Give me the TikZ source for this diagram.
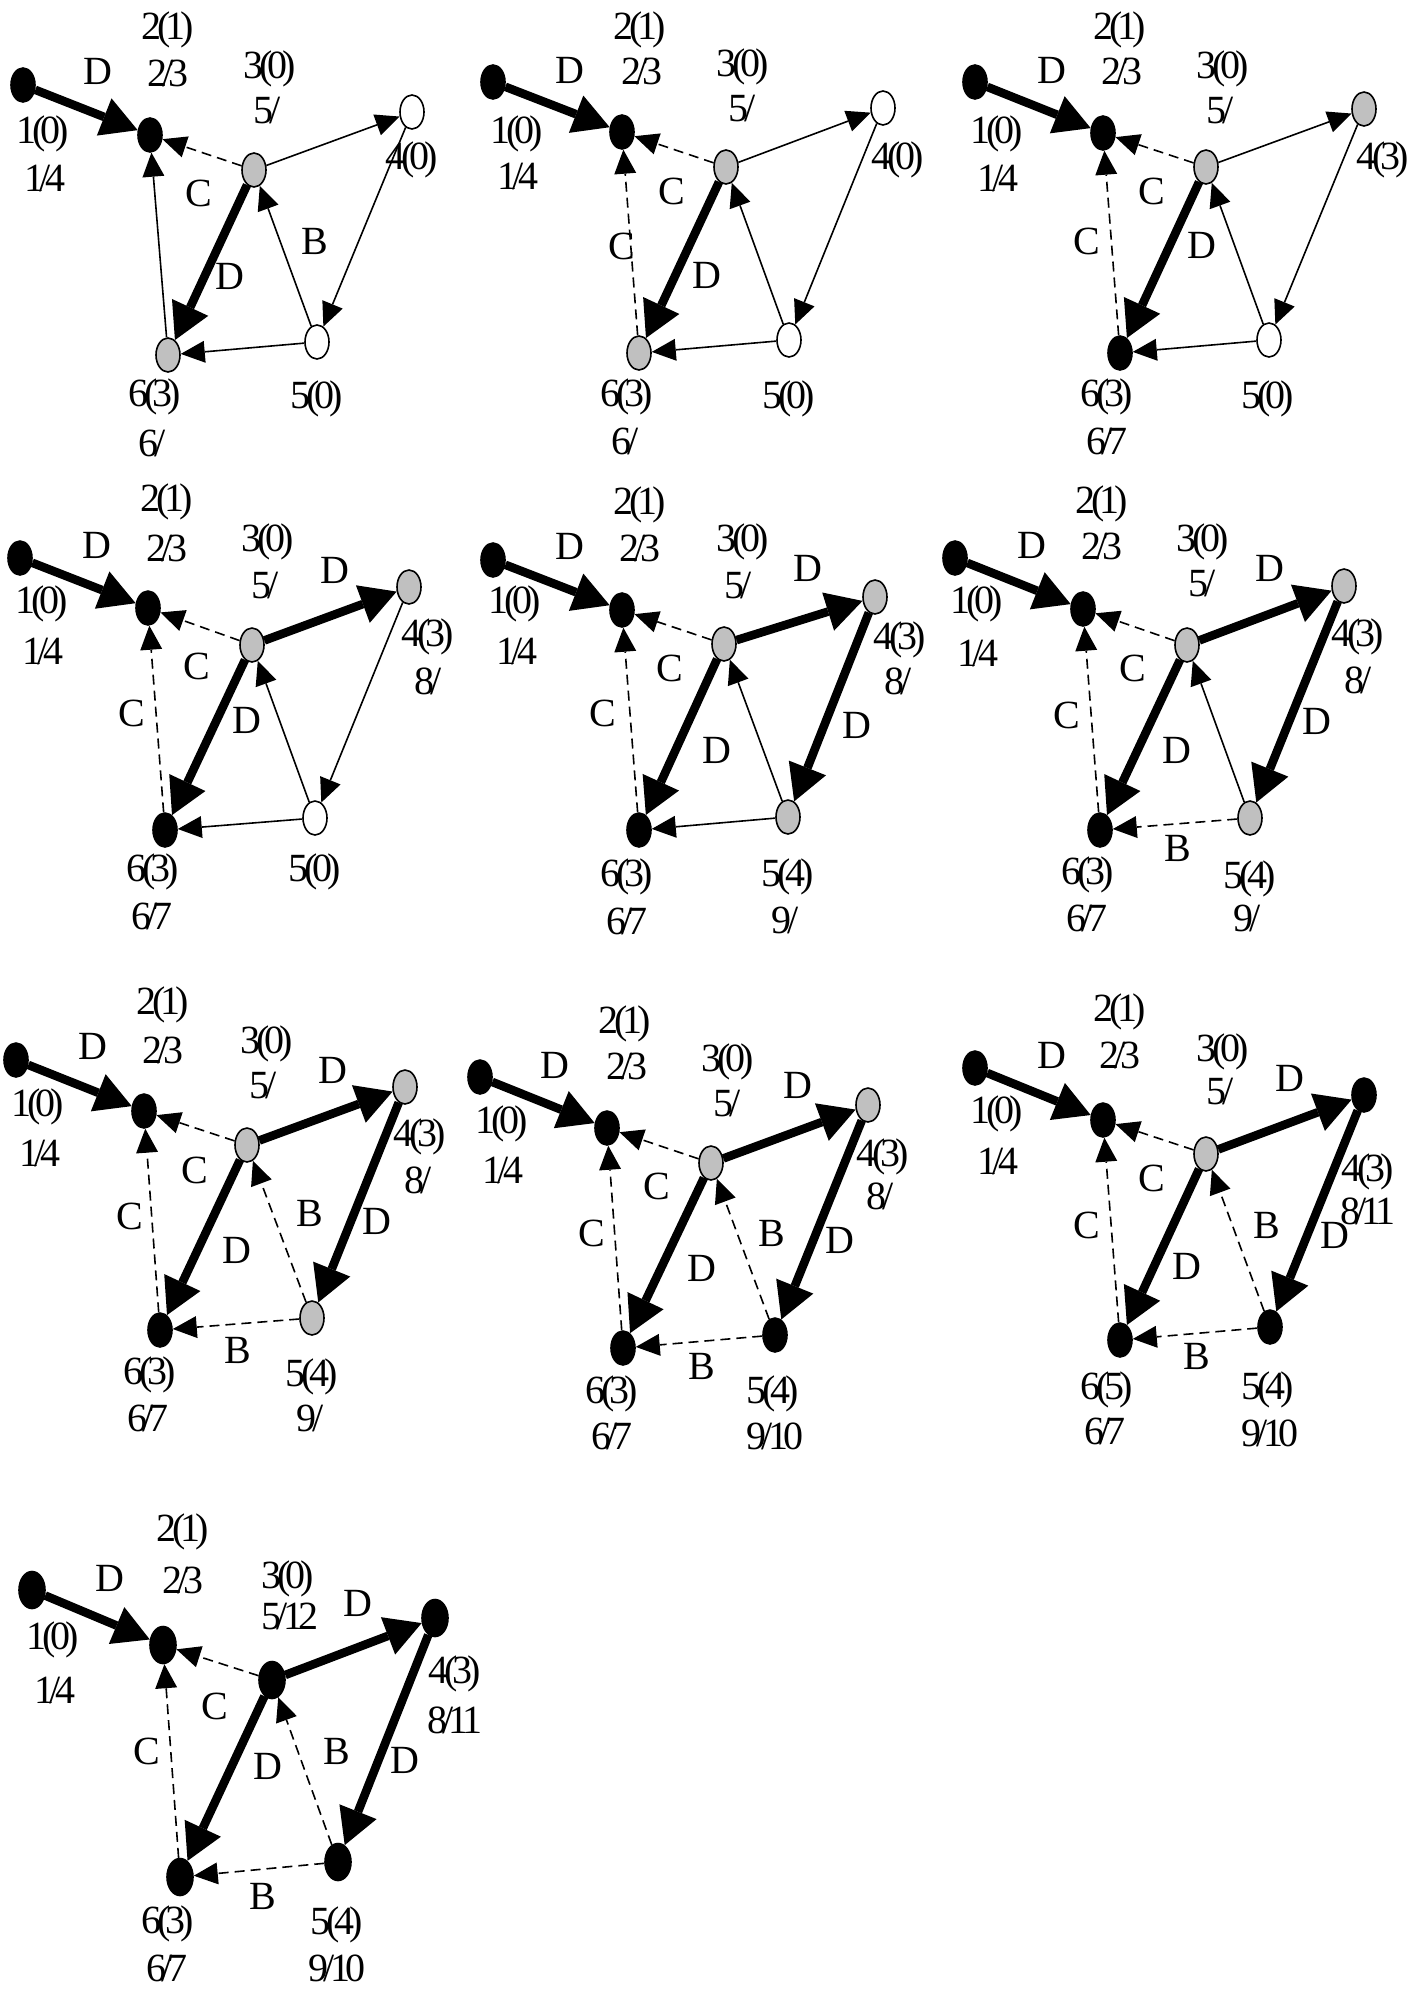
\documentclass[tikz,border=0pt]{standalone}
\usepackage{fontspec}
\setmainfont{Liberation Serif}[LetterSpace=-12]
\usetikzlibrary{arrows.meta,shapes.geometric}
\definecolor{nodegray}{RGB}{192,192,192}
\newcommand\lb[4]{\node[lbl] (#1) at (#2,#3) {#4};}
\begin{document}
\begin{tikzpicture}[x=0.5pt,y=-0.5pt,
 vx/.style={ellipse,draw=black,line width=0.8pt,minimum width=12pt,minimum height=17pt,inner sep=0pt},
 blk/.style={vx,fill=black},
 gry/.style={vx,fill=nodegray},
 wht/.style={vx,fill=white},
 lbl/.style={inner sep=0pt,font=\fontsize{20pt}{20pt}\selectfont,text height=0.66em,text depth=0pt},
 thk/.style={line width=4.3pt,-{Triangle[length=18pt,width=20pt,line width=0pt]}},
 thn/.style={line width=0.8pt,-{Triangle[length=12pt,width=11pt,line width=0pt]}},
 dsh/.style={thn,dash pattern=on 5pt off 3pt},
]
\useasboundingbox (0,0) rectangle (1417,1993);
\fill[white] (0,0) rectangle (1417,1993);

% ---------- Panel 1 ----------
\begin{scope}[shift={(23,85)}]
\node[blk] (A1) at (0,0) {};
\node[blk] (A2) at (127,50) {};
\node[gry] (A3) at (231,85) {};
\node[wht] (A4) at (389,27) {};
\node[wht] (A5) at (294,257) {};
\node[gry] (A6) at (145,270) {};
\draw[thk] (A1) -- (A2);
\draw[dsh] (A3) -- (A2);
\draw[thn] (A6) -- (A2);
\draw[thk] (A3) -- (A6);
\draw[thn] (A3) -- (A4);
\draw[thn] (A4) -- (A5);
\draw[thn] (A5) -- (A3);
\draw[thn] (A5) -- (A6);
\lb{Aa}{145}{-52}{2(1)} \lb{Ab}{145}{-5}{2/3} \lb{Ac}{75}{-7}{D}
\lb{Ad}{20}{52}{1(0)} \lb{Ae}{22}{100}{1/4}
\lb{Af}{247}{-13}{3(0)} \lb{Ag}{244}{32}{5/}
\lb{Ah}{389}{78}{4(0)}
\lb{Ai}{176}{115}{C} \lb{Aj}{292}{163}{B} \lb{Ak}{207}{198}{D}
\lb{Al}{132}{315}{6(3)} \lb{Am}{129}{365}{6/}
\lb{An}{294}{317}{5(0)}
\end{scope}

% ---------- Panel 2 ----------
\begin{scope}[shift={(493,82)}]
\node[blk] (B1) at (0,0) {};
\node[blk] (B2) at (129,50) {};
\node[gry] (B3) at (233,85) {};
\node[wht] (B4) at (390,26) {};
\node[wht] (B5) at (296,258) {};
\node[gry] (B6) at (146,271) {};
\draw[thk] (B1) -- (B2);
\draw[dsh] (B3) -- (B2);
\draw[dsh] (B6) -- (B2);
\draw[thk] (B3) -- (B6);
\draw[thn] (B3) -- (B4);
\draw[thn] (B4) -- (B5);
\draw[thn] (B5) -- (B3);
\draw[thn] (B5) -- (B6);
\lb{Ba}{147}{-49}{2(1)} \lb{Bb}{149}{-4}{2/3} \lb{Bc}{77}{-5}{D}
\lb{Bd}{24}{55}{1(0)} \lb{Be}{25}{101}{1/4}
\lb{Bf}{250}{-12}{3(0)} \lb{Bg}{249}{33}{5/}
\lb{Bh}{405}{81}{4(0)}
\lb{Bi}{179}{116}{C} \lb{Bj}{129}{171}{C} \lb{Bk}{214}{200}{D}
\lb{Bl}{134}{318}{6(3)} \lb{Bm}{132}{366}{6/}
\lb{Bn}{296}{320}{5(0)}
\end{scope}

% ---------- Panel 3 ----------
\begin{scope}[shift={(975,82)}]
\node[blk] (C1) at (0,0) {};
\node[blk] (C2) at (128,51) {};
\node[gry] (C3) at (231,85) {};
\node[gry] (C4) at (389,27) {};
\node[wht] (C5) at (294,258) {};
\node[blk] (C6) at (145,271) {};
\draw[thk] (C1) -- (C2);
\draw[dsh] (C3) -- (C2);
\draw[dsh] (C6) -- (C2);
\draw[thk] (C3) -- (C6);
\draw[thn] (C3) -- (C4);
\draw[thn] (C4) -- (C5);
\draw[thn] (C5) -- (C3);
\draw[thn] (C5) -- (C6);
\lb{Ca}{145}{-49}{2(1)} \lb{Cb}{147}{-4}{2/3} \lb{Cc}{77}{-5}{D}
\lb{Cd}{22}{55}{1(0)} \lb{Ce}{23}{103}{1/4}
\lb{Cf}{248}{-10}{3(0)} \lb{Cg}{245}{35}{5/}
\lb{Ch}{408}{81}{4(3)}
\lb{Ci}{177}{116}{C} \lb{Cj}{112}{166}{C} \lb{Ck}{227}{170}{D}
\lb{Cl}{132}{318}{6(3)} \lb{Cm}{132}{366}{6/7}
\lb{Cn}{293}{320}{5(0)}
\end{scope}

% ---------- Panel 4 ----------
\begin{scope}[shift={(20,558)}]
\node[blk] (D1) at (0,0) {};
\node[blk] (D2) at (128,50) {};
\node[gry] (D3) at (232,87) {};
\node[gry] (D4) at (389,29) {};
\node[wht] (D5) at (295,260) {};
\node[blk] (D6) at (145,272) {};
\draw[thk] (D1) -- (D2);
\draw[dsh] (D3) -- (D2);
\draw[dsh] (D6) -- (D2);
\draw[thk] (D3) -- (D6);
\draw[thk] (D3) -- (D4);
\draw[thn] (D4) -- (D5);
\draw[thn] (D5) -- (D3);
\draw[thn] (D5) -- (D6);
\lb{Da}{147}{-53}{2(1)} \lb{Db}{147}{-3}{2/3} \lb{Dc}{77}{-6}{D}
\lb{Dd}{22}{49}{1(0)} \lb{De}{23}{100}{1/4}
\lb{Df}{248}{-13}{3(0)} \lb{Dg}{245}{34}{5/}
\lb{Dh}{315}{19}{D}
\lb{Di}{408}{82}{4(3)} \lb{Dj}{408}{130}{8/}
\lb{Dk}{177}{115}{C} \lb{Dl}{112}{162}{C} \lb{Dm}{227}{169}{D}
\lb{Dn}{133}{317}{6(3)} \lb{Do}{132}{365}{6/7}
\lb{Dp}{295}{317}{5(0)}
\end{scope}

% ---------- Panel 5 ----------
\begin{scope}[shift={(493,560)}]
\node[blk] (E1) at (0,0) {};
\node[blk] (E2) at (129,50) {};
\node[gry] (E3) at (231,84) {};
\node[gry] (E4) at (382,37) {};
\node[gry] (E5) at (295,257) {};
\node[blk] (E6) at (146,270) {};
\draw[thk] (E1) -- (E2);
\draw[dsh] (E3) -- (E2);
\draw[dsh] (E6) -- (E2);
\draw[thk] (E3) -- (E6);
\draw[thk] (E3) -- (E4);
\draw[thk] (E4) -- (E5);
\draw[thn] (E5) -- (E3);
\draw[thn] (E5) -- (E6);
\lb{Ea}{147}{-52}{2(1)} \lb{Eb}{147}{-5}{2/3} \lb{Ec}{77}{-7}{D}
\lb{Ed}{22}{47}{1(0)} \lb{Ee}{24}{98}{1/4}
\lb{Ef}{250}{-15}{3(0)} \lb{Eg}{245}{32}{5/}
\lb{Eh}{315}{15}{D}
\lb{Ei}{407}{83}{4(3)} \lb{Ej}{405}{128}{8/}
\lb{Ek}{364}{172}{D}
\lb{El}{177}{115}{C} \lb{Em}{110}{160}{C} \lb{En}{224}{197}{D}
\lb{Eo}{134}{320}{6(3)} \lb{Ep}{134}{368}{6/7}
\lb{Eq}{295}{320}{5(4)} \lb{Er}{292}{367}{9/}
\end{scope}

% ---------- Panel 6 ----------
\begin{scope}[shift={(955,558)}]
\node[blk] (F1) at (0,0) {};
\node[blk] (F2) at (128,51) {};
\node[gry] (F3) at (232,87) {};
\node[gry] (F4) at (389,28) {};
\node[gry] (F5) at (295,260) {};
\node[blk] (F6) at (145,272) {};
\draw[thk] (F1) -- (F2);
\draw[dsh] (F3) -- (F2);
\draw[dsh] (F6) -- (F2);
\draw[thk] (F3) -- (F6);
\draw[thk] (F3) -- (F4);
\draw[thk] (F4) -- (F5);
\draw[thn] (F5) -- (F3);
\draw[dsh] (F5) -- (F6);
\lb{Fa}{147}{-51}{2(1)} \lb{Fb}{147}{-5}{2/3} \lb{Fc}{77}{-6}{D}
\lb{Fd}{22}{49}{1(0)} \lb{Fe}{23}{102}{1/4}
\lb{Ff}{248}{-13}{3(0)} \lb{Fg}{247}{32}{5/}
\lb{Fh}{315}{17}{D}
\lb{Fi}{403}{82}{4(3)} \lb{Fj}{403}{129}{8/}
\lb{Fk}{362}{170}{D}
\lb{Fl}{178}{117}{C} \lb{Fm}{112}{164}{C} \lb{Fn}{222}{199}{D}
\lb{Fo}{223}{297}{B}
\lb{Fp}{133}{320}{6(3)} \lb{Fq}{132}{367}{6/7}
\lb{Fr}{295}{324}{5(4)} \lb{Fs}{292}{367}{9/}
\end{scope}

% ---------- Panel 7 ----------
\begin{scope}[shift={(16,1060)}]
\node[blk] (G1) at (0,0) {};
\node[blk] (G2) at (128,51) {};
\node[gry] (G3) at (231,85) {};
\node[gry] (G4) at (389,27) {};
\node[gry] (G5) at (296,258) {};
\node[blk] (G6) at (144,270) {};
\draw[thk] (G1) -- (G2);
\draw[dsh] (G3) -- (G2);
\draw[dsh] (G6) -- (G2);
\draw[thk] (G3) -- (G6);
\draw[thk] (G3) -- (G4);
\draw[thk] (G4) -- (G5);
\draw[dsh] (G5) -- (G3);
\draw[dsh] (G5) -- (G6);
\lb{Ga}{147}{-52}{2(1)} \lb{Gb}{147}{-3}{2/3} \lb{Gc}{77}{-7}{D}
\lb{Gd}{22}{50}{1(0)} \lb{Ge}{24}{100}{1/4}
\lb{Gf}{251}{-13}{3(0)} \lb{Gg}{247}{32}{5/}
\lb{Gh}{317}{17}{D}
\lb{Gi}{404}{80}{4(3)} \lb{Gj}{402}{127}{8/}
\lb{Gk}{361}{168}{D} \lb{Gl}{294}{160}{B}
\lb{Gm}{179}{117}{C} \lb{Gn}{114}{163}{C} \lb{Go}{221}{197}{D}
\lb{Gp}{222}{297}{B}
\lb{Gq}{134}{318}{6(3)} \lb{Gr}{132}{365}{6/7}
\lb{Gs}{296}{320}{5(4)} \lb{Gt}{294}{365}{9/}
\end{scope}

% ---------- Panel 8 ----------
\begin{scope}[shift={(480,1077)}]
\node[blk] (H1) at (0,0) {};
\node[blk] (H2) at (127,51) {};
\node[gry] (H3) at (231,86) {};
\node[gry] (H4) at (388,28) {};
\node[blk] (H5) at (295,258) {};
\node[blk] (H6) at (143,271) {};
\draw[thk] (H1) -- (H2);
\draw[dsh] (H3) -- (H2);
\draw[dsh] (H6) -- (H2);
\draw[thk] (H3) -- (H6);
\draw[thk] (H3) -- (H4);
\draw[thk] (H4) -- (H5);
\draw[dsh] (H5) -- (H3);
\draw[dsh] (H5) -- (H6);
\lb{Ha}{145}{-50}{2(1)} \lb{Hb}{147}{-4}{2/3} \lb{Hc}{75}{-5}{D}
\lb{Hd}{22}{50}{1(0)} \lb{He}{23}{100}{1/4}
\lb{Hf}{248}{-12}{3(0)} \lb{Hg}{247}{33}{5/}
\lb{Hh}{318}{15}{D}
\lb{Hi}{403}{83}{4(3)} \lb{Hj}{400}{126}{8/}
\lb{Hk}{360}{170}{D} \lb{Hl}{292}{163}{B}
\lb{Hm}{177}{116}{C} \lb{Hn}{112}{163}{C} \lb{Ho}{222}{198}{D}
\lb{Hp}{222}{296}{B}
\lb{Hq}{132}{320}{6(3)} \lb{Hr}{132}{366}{6/7}
\lb{Hs}{293}{320}{5(4)} \lb{Ht}{295}{366}{9/10}
\end{scope}

% ---------- Panel 9 ----------
\begin{scope}[shift={(975,1068)}]
\node[blk] (I1) at (0,0) {};
\node[blk] (I2) at (128,52) {};
\node[gry] (I3) at (231,86) {};
\node[blk] (I4) at (389,27) {};
\node[blk] (I5) at (295,259) {};
\node[blk] (I6) at (145,272) {};
\draw[thk] (I1) -- (I2);
\draw[dsh] (I3) -- (I2);
\draw[dsh] (I6) -- (I2);
\draw[thk] (I3) -- (I6);
\draw[thk] (I3) -- (I4);
\draw[thk] (I4) -- (I5);
\draw[dsh] (I5) -- (I3);
\draw[dsh] (I5) -- (I6);
\lb{Ia}{145}{-53}{2(1)} \lb{Ib}{145}{-6}{2/3} \lb{Ic}{77}{-6}{D}
\lb{Id}{22}{49}{1(0)} \lb{Ie}{23}{100}{1/4}
\lb{If}{248}{-13}{3(0)} \lb{Ig}{245}{30}{5/}
\lb{Ih}{315}{17}{D}
\lb{Ii}{393}{107}{4(3)} \lb{Ij}{393}{150}{8/11}
\lb{Ik}{360}{174}{D} \lb{Il}{292}{164}{B}
\lb{Im}{177}{117}{C} \lb{In}{112}{164}{C} \lb{Io}{212}{205}{D}
\lb{Ip}{222}{295}{B}
\lb{Iq}{132}{325}{6(5)} \lb{Ir}{130}{370}{6/7}
\lb{Is}{293}{325}{5(4)} \lb{It}{295}{372}{9/10}
\end{scope}

% ---------- Panel 10 ----------
\begin{scope}[shift={(32,1590)},vx/.append style={minimum width=13pt,minimum height=18.5pt}]
\node[blk] (J1) at (0,0) {};
\node[blk] (J2) at (131,55) {};
\node[blk] (J3) at (240,90) {};
\node[blk] (J4) at (403,28) {};
\node[blk] (J5) at (306,272) {};
\node[blk] (J6) at (148,287) {};
\draw[thk] (J1) -- (J2);
\draw[dsh] (J3) -- (J2);
\draw[dsh] (J6) -- (J2);
\draw[thk] (J3) -- (J6);
\draw[thk] (J3) -- (J4);
\draw[thk] (J4) -- (J5);
\draw[dsh] (J5) -- (J3);
\draw[dsh] (J5) -- (J6);
\lb{Ja}{151}{-55}{2(1)} \lb{Jb}{151}{-3}{2/3} \lb{Jc}{78}{-5}{D}
\lb{Jd}{21}{53}{1(0)} \lb{Je}{23}{107}{1/4}
\lb{Jf}{256}{-8}{3(0)} \lb{Jg}{258}{33}{5/12}
\lb{Jh}{326}{20}{D}
\lb{Ji}{423}{87}{4(3)} \lb{Jj}{423}{137}{8/11}
\lb{Jk}{183}{123}{C} \lb{Jl}{115}{168}{C} \lb{Jm}{305}{168}{B}
\lb{Jn}{236}{183}{D} \lb{Jo}{373}{177}{D}
\lb{Jp}{231}{313}{B}
\lb{Jq}{136}{337}{6(3)} \lb{Jr}{135}{385}{6/7}
\lb{Js}{305}{338}{5(4)} \lb{Jt}{305}{385}{9/10}
\end{scope}
\end{tikzpicture}
\end{document}
